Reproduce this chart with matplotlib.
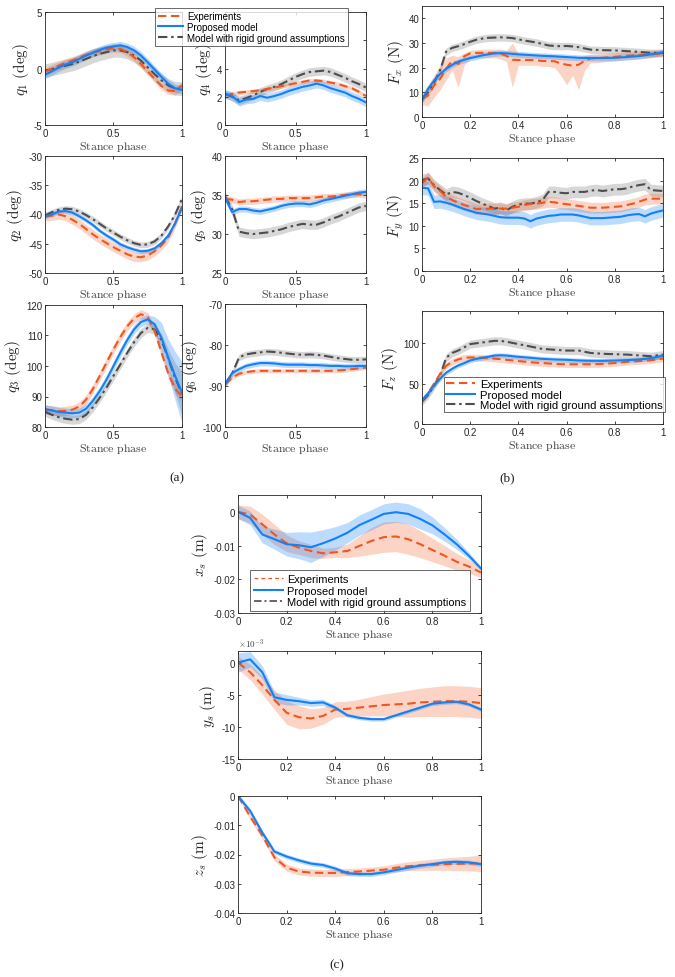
import numpy as np
import matplotlib.pyplot as plt
from matplotlib.ticker import FuncFormatter
from matplotlib.lines import Line2D

plt.rcParams['font.family'] = ['Liberation Sans', 'DejaVu Sans']
plt.rcParams['mathtext.fontset'] = 'cm'
plt.rcParams['axes.unicode_minus'] = False

# stance phase sampling (joint angles / slip use 21 samples, forces 41)
phase21 = np.linspace(0, 1, 21)
phase41 = np.linspace(0, 1, 41)

# ---- (a) joint angles, deg ----
q1_exp = [-0.3, 0.0, 0.25, 0.5, 0.7, 0.95, 1.2, 1.4, 1.55, 1.7, 1.8, 1.75, 1.45, 1.0, 0.4, -0.25, -0.9, -1.55, -1.95, -2.0, -1.5]
q1_pro = [-0.55, -0.25, 0.1, 0.35, 0.55, 0.85, 1.15, 1.4, 1.65, 1.85, 1.95, 2.05, 1.9, 1.6, 1.15, 0.55, -0.1, -0.75, -1.35, -1.75, -1.9]
q1_rig = [-0.2, -0.05, 0.1, 0.25, 0.4, 0.6, 0.85, 1.1, 1.3, 1.45, 1.6, 1.6, 1.45, 1.15, 0.7, 0.1, -0.5, -1.05, -1.5, -1.75, -1.8]

q2_exp = [-40.3, -40.2, -40.0, -40.3, -40.9, -41.6, -42.5, -43.4, -44.2, -44.9, -45.6, -46.2, -46.8, -47.2, -47.3, -47.0, -46.3, -45.3, -43.9, -41.5, -38.6]
q2_pro = [-40.3, -40.0, -39.5, -39.4, -39.7, -40.3, -41.0, -41.8, -42.8, -43.6, -44.3, -45.1, -45.6, -46.0, -46.3, -46.2, -45.8, -44.9, -43.6, -41.5, -38.8]
q2_rig = [-40.2, -39.6, -39.2, -39.0, -39.1, -39.5, -40.1, -40.8, -41.6, -42.4, -43.1, -43.8, -44.4, -44.9, -45.2, -45.1, -44.6, -43.6, -42.0, -40.0, -37.3]

q3_exp = [85.8, 85.4, 85.2, 85.3, 85.7, 86.7, 89.0, 92.5, 96.8, 101.2, 105.5, 109.5, 113.0, 115.6, 117.0, 116.0, 111.5, 104.5, 97.5, 92.5, 90.0]
q3_pro = [85.8, 85.5, 84.9, 84.7, 84.5, 84.7, 86.0, 88.6, 91.8, 95.6, 100.0, 104.4, 108.5, 112.0, 114.4, 115.3, 113.7, 109.3, 102.7, 96.7, 91.3]
q3_rig = [85.0, 84.0, 83.2, 82.7, 82.4, 82.6, 84.0, 86.5, 89.6, 93.0, 96.8, 100.5, 104.3, 107.8, 110.8, 112.5, 112.0, 108.5, 102.5, 96.0, 91.0]
q3_pro_sd = [1.5, 1.5, 1.5, 1.5, 1.5, 1.5, 1.5, 1.5, 1.5, 1.5, 1.5, 1.5, 1.5, 1.5, 1.5, 1.5, 2.5, 5.0, 6.0, 8.0, 10.0]
q3_rig_sd = [1.5, 1.5, 1.5, 1.5, 1.5, 1.5, 1.5, 1.5, 1.5, 1.5, 1.5, 1.5, 1.5, 1.5, 1.5, 1.5, 1.5, 2.0, 3.0, 5.0, 7.0]

q4_exp = [2.1, 2.2, 2.3, 2.35, 2.4, 2.45, 2.55, 2.65, 2.75, 2.85, 2.95, 3.05, 3.15, 3.15, 3.1, 3.0, 2.9, 2.75, 2.6, 2.35, 2.05]
q4_pro = [2.2, 2.05, 1.63, 1.8, 1.85, 2.05, 1.93, 2.05, 2.2, 2.4, 2.55, 2.7, 2.8, 2.93, 2.8, 2.6, 2.45, 2.3, 2.05, 1.85, 1.6]
q4_rig = [2.2, 2.0, 1.75, 1.9, 2.1, 2.35, 2.55, 2.7, 2.9, 3.15, 3.4, 3.6, 3.75, 3.8, 3.85, 3.75, 3.55, 3.35, 3.1, 2.9, 2.65]

q5_exp = [34.5, 34.4, 34.1, 34.2, 34.2, 34.3, 34.4, 34.5, 34.5, 34.6, 34.6, 34.6, 34.6, 34.7, 34.8, 34.8, 34.9, 35.0, 35.1, 35.1, 35.0]
q5_pro = [34.7, 32.8, 33.2, 33.2, 33.0, 32.9, 33.1, 33.3, 33.6, 33.8, 33.9, 33.9, 33.8, 34.0, 34.3, 34.5, 34.7, 34.9, 35.1, 35.3, 35.4]
q5_rig = [34.8, 33.2, 30.3, 30.1, 30.0, 30.1, 30.2, 30.4, 30.6, 30.9, 31.1, 31.3, 31.2, 31.2, 31.5, 31.9, 32.2, 32.6, 33.0, 33.4, 33.6]

q6_exp = [-89.6, -88.0, -87.0, -86.6, -86.4, -86.3, -86.3, -86.3, -86.3, -86.3, -86.3, -86.3, -86.3, -86.3, -86.3, -86.3, -86.2, -86.1, -85.9, -85.7, -85.5]
q6_pro = [-89.6, -86.9, -85.9, -85.1, -84.7, -84.4, -84.4, -84.5, -84.7, -84.8, -84.8, -84.8, -84.9, -84.9, -85.0, -85.1, -85.1, -85.2, -85.2, -85.1, -85.1]
q6_rig = [-89.5, -87.0, -83.0, -82.3, -82.0, -81.8, -81.6, -81.7, -81.9, -82.1, -82.3, -82.4, -82.3, -82.4, -82.6, -82.9, -83.2, -83.4, -83.6, -83.6, -83.5]

# ---- (b) ground reaction forces, N ----
fx_exp = [7.4, 8.7, 12.8, 15.4, 19.5, 22.8, 21.5, 24.6, 25.8, 26.0, 26.0, 26.0, 25.9, 25.8, 24.8, 23.2, 23.1, 23.1, 23.1, 23.0, 22.7,
          22.7, 22.6, 21.7, 21.2, 20.8, 21.2, 22.8, 23.8, 23.9, 24.0, 24.2, 24.4, 24.6, 24.8, 24.95, 25.1, 25.25, 25.4, 25.6, 25.8]
fx_exp_lo = [5, 4.5, 8, 11, 15, 19, 12, 21, 23.5, 24, 24, 24, 24, 23.5, 22.5, 12, 21, 21, 21, 21, 20.5,
             20.5, 20, 17, 13, 17, 11, 19, 22, 22, 22.3, 22.5, 22.7, 23, 23.2, 23.4, 23.6, 23.8, 24, 24.2, 24.4]
fx_exp_hi = [10, 13, 17, 21, 24, 25, 24.5, 26, 27, 27.3, 27.5, 27.5, 27.5, 27.5, 27, 30, 25.5, 25.3, 25.3, 25.2, 25,
             25, 25, 24.5, 24, 23.8, 24, 25, 25.5, 25.6, 25.7, 25.9, 26.1, 26.3, 26.5, 26.6, 26.8, 27, 27.1, 27.2, 27.3]
fx_pro = [6.7, 11.4, 14.8, 17.4, 19.5, 21.1, 22.4, 23.2, 23.9, 24.4, 25.0, 25.4, 25.8, 25.9, 25.8, 25.6, 25.4, 25.25, 25.1, 24.95, 24.8,
          24.7, 24.6, 24.45, 24.3, 24.15, 24.0, 23.95, 23.9, 23.9, 23.9, 23.95, 24.0, 24.15, 24.3, 24.5, 24.7, 25.0, 25.4, 25.8, 26.2]
fx_rig = [7.5, 10.0, 14.0, 19.0, 26.5, 28.0, 28.7, 29.5, 30.5, 31.3, 31.8, 32.1, 32.2, 32.3, 32.2, 32.0, 31.5, 31.0, 30.6, 30.2, 29.6,
          29.0, 28.8, 28.7, 28.8, 28.6, 28.3, 27.8, 27.3, 27.2, 27.1, 27.05, 27.0, 26.85, 26.7, 26.55, 26.4, 26.2, 26.0, 26.0, 26.0]

fy_exp = [19.4, 20.7, 18.7, 17.7, 16.4, 15.7, 15.1, 14.6, 14.2, 13.7, 13.7, 13.8, 13.8, 13.8, 13.8, 14.0, 14.2, 14.6, 14.8, 14.9, 15.1,
          15.3, 15.2, 14.9, 14.8, 14.6, 14.4, 14.2, 14.0, 14.0, 14.0, 14.1, 14.2, 14.3, 14.6, 14.9, 15.3, 15.8, 16.0, 16.0, 16.0]
fy_pro = [18.4, 18.3, 15.3, 15.4, 15.1, 14.7, 14.2, 13.7, 13.3, 12.9, 12.7, 12.5, 12.2, 11.9, 11.8, 11.8, 11.8, 11.6, 11.0, 11.6, 11.9,
          12.2, 12.3, 12.5, 12.5, 12.5, 12.3, 12.0, 11.7, 11.7, 11.7, 11.8, 11.9, 12.0, 12.3, 12.5, 12.6, 12.1, 12.7, 13.1, 13.4]
fy_rig = [20.1, 20.5, 19.0, 17.9, 16.9, 17.5, 17.3, 16.8, 16.2, 15.5, 14.9, 14.4, 13.8, 14.0, 13.4, 14.2, 14.7, 14.9, 14.9, 15.2, 15.7,
          17.5, 17.5, 17.3, 17.2, 17.5, 17.5, 17.5, 17.8, 17.9, 17.7, 17.9, 18.1, 18.1, 18.3, 18.7, 19.0, 19.2, 17.9, 17.8, 17.7]

fz_exp = [29, 38, 50, 62, 72, 77, 80, 82, 82.5, 82.3, 82, 81.5, 81, 80.3, 79.5, 78.8, 78, 77.3, 76.5, 76, 75.5,
          75, 74.5, 74.2, 74, 74, 74, 74, 74, 74.2, 74.5, 75, 75.5, 76.2, 77, 77.5, 78, 78.5, 79, 80, 81]
fz_pro = [29.5, 37.7, 48, 56, 63.5, 68.4, 72.5, 75.4, 78.7, 80.7, 82, 83.2, 84.8, 85.2, 84.8, 84.0, 83.2, 82.6, 82.0, 81.3, 80.7,
          80.3, 79.9, 79.7, 79.5, 79.1, 78.7, 78.5, 78.3, 78.3, 78.3, 78.5, 78.7, 78.9, 79.1, 79.5, 79.9, 80.7, 81.6, 83.0, 84.8]
fz_rig = [28, 36, 47, 60, 82, 88, 91, 95, 99, 100, 101, 102, 103, 103, 102, 100.5, 99, 97.5, 96, 94.5, 93,
          92.5, 92, 91.5, 91, 91, 91, 89.5, 88, 87.5, 87, 86.7, 86.5, 86.2, 86, 85.5, 85, 84.5, 84, 85, 86]

# ---- (c) slip displacement, m ----
xs_exp = [0, -0.0008, -0.0037, -0.0067, -0.0093, -0.0106, -0.0116, -0.0123, -0.0120, -0.0116, -0.0101,
          -0.0086, -0.0075, -0.0073, -0.0081, -0.0096, -0.0113, -0.0130, -0.0148, -0.0162, -0.0180]
xs_pro = [0, -0.0018, -0.0067, -0.0081, -0.0096, -0.0099, -0.0105, -0.0093, -0.0079, -0.0062, -0.0039,
          -0.0023, -0.0006, -0.0001, -0.0006, -0.0021, -0.0040, -0.0067, -0.0096, -0.0130, -0.0168]
xs_exp_sd = [0.002, 0.0025, 0.003, 0.003, 0.0025, 0.002, 0.002, 0.0015, 0.0015, 0.002, 0.003,
             0.004, 0.0045, 0.0045, 0.0045, 0.004, 0.0035, 0.003, 0.0025, 0.002, 0.0015]
xs_pro_sd = [0.002, 0.002, 0.0025, 0.003, 0.0035, 0.004, 0.0045, 0.004, 0.0035, 0.003, 0.003,
             0.003, 0.003, 0.003, 0.003, 0.003, 0.0025, 0.002, 0.0015, 0.001, 0.0005]

ys_exp_e3 = [0, -1.5, -3.5, -5.8, -7.8, -8.5, -8.7, -8.3, -7.3, -7.2, -7.0, -6.8, -6.6, -6.5, -6.4, -6.2, -6.1, -6.0, -6.0, -6.1, -6.3]
ys_pro_e3 = [0, 0.5, -1.5, -5.4, -5.8, -6.0, -6.3, -6.2, -7.0, -8.2, -8.6, -8.8, -8.8, -8.2, -7.6, -7.0, -6.4, -6.2, -6.1, -6.5, -7.3]
ys_exp_sd_e3 = [1.0, 1.2, 1.4, 1.5, 1.8, 1.8, 1.5, 1.3, 1.2, 1.2, 1.3, 1.5, 1.7, 1.9, 2.1, 2.2, 2.3, 2.4, 2.4, 2.4, 2.4]
ys_pro_sd_e3 = [1.5, 1.2, 1.0, 0.8, 0.8, 0.6, 0.5, 0.5, 0.3, 0.3, 0.3, 0.3, 0.3, 0.3, 0.3, 0.3, 0.3, 0.3, 0.3, 0.3, 0.3]

zs_exp = [0, -0.0070, -0.0135, -0.0210, -0.0245, -0.0258, -0.0262, -0.0263, -0.0263, -0.0260, -0.0258,
          -0.0255, -0.0252, -0.0245, -0.0240, -0.0237, -0.0235, -0.0233, -0.0232, -0.0231, -0.0230]
zs_pro = [0, -0.0051, -0.0125, -0.0190, -0.0207, -0.0220, -0.0231, -0.0236, -0.0248, -0.0264, -0.0267,
          -0.0267, -0.0261, -0.0253, -0.0245, -0.0238, -0.0233, -0.0227, -0.0225, -0.0227, -0.0233]
zs_exp_sd = [0.0005, 0.001, 0.0012, 0.0012, 0.0012, 0.0012, 0.0012, 0.0012, 0.0012, 0.0012, 0.0012,
             0.0012, 0.0013, 0.0014, 0.0015, 0.0017, 0.0019, 0.0021, 0.0023, 0.0025, 0.0028]

labels = ['Experiments', 'Proposed model', 'Model with rigid ground assumptions']

EXP_C = '#F0561D'
PRO_C = '#1380F5'
RIG_C = '#4D4D4D'
EXP_LS = (0, (4.0, 2.2))
RIG_LS = (0, (4.5, 1.8, 1.2, 1.8))

W, H = 675, 978
fig = plt.figure(figsize=(W / 100, H / 100), dpi=100)


def add_axes(left, right, top, bottom):
    return fig.add_axes([left / W, 1 - bottom / H, (right - left) / W, (bottom - top) / H])


def series(ax, t, m, sd, color, ls, alpha, lo=None, hi=None):
    m = np.asarray(m, float)
    sd = np.asarray(sd, float)
    lo = m - sd if lo is None else np.asarray(lo, float)
    hi = m + sd if hi is None else np.asarray(hi, float)
    ax.fill_between(t, lo, hi, color=color, alpha=alpha, lw=0)
    ax.plot(t, m, color=color, ls=ls, lw=1.5)


def style(ax, ylab, ylim, yticks, xticks, yfmt=None):
    ax.set_xlim(0, 1)
    ax.set_ylim(ylim)
    ax.set_yticks(yticks)
    ax.set_xticks(xticks)
    ax.xaxis.set_major_formatter(FuncFormatter(lambda v, p: '%g' % round(v, 6)))
    ax.yaxis.set_major_formatter(yfmt or FuncFormatter(lambda v, p: '%g' % round(v, 6)))
    ax.tick_params(direction='in', top=True, right=True, labelsize=7, length=2.5,
                   width=0.6, pad=2, colors='#262626')
    for s in ax.spines.values():
        s.set_linewidth(0.6)
        s.set_color('#262626')
    ax.set_xlabel(r'$\mathrm{Stance\ phase}$', fontsize=8.5, labelpad=1, color='#404040')
    ax.set_ylabel(ylab, fontsize=11, labelpad=2, color='#262626')


def trio(ax, t, exp, pro, rig, sd_e, sd_p, sd_r, exp_lo=None, exp_hi=None):
    series(ax, t, rig, sd_r, RIG_C, RIG_LS, 0.22)
    series(ax, t, exp, sd_e, EXP_C, EXP_LS, 0.25, exp_lo, exp_hi)
    series(ax, t, pro, sd_p, PRO_C, '-', 0.28)


# (a)
ax = add_axes(45, 182, 13, 126)
trio(ax, phase21, q1_exp, q1_pro, q1_rig, 0.35, 0.35, 0.6)
style(ax, r'$q_1\ (\mathrm{deg})$', (-5, 5), [-5, 0, 5], [0, 0.5, 1])

ax = add_axes(225, 366, 13, 126)
trio(ax, phase21, q4_exp, q4_pro, q4_rig, 0.15, 0.3, 0.3)
# labels for 6 and 8 sit under the legend box in the original
style(ax, r'$q_4\ (\mathrm{deg})$', (0, 8), [0, 2, 4, 6, 8], [0, 0.5, 1],
      yfmt=FuncFormatter(lambda v, p: '%g' % v if v < 5 else ''))

ax = add_axes(45, 182, 157, 274)
trio(ax, phase21, q2_exp, q2_pro, q2_rig, 0.8, 0.4, 0.5)
style(ax, r'$q_2\ (\mathrm{deg})$', (-50, -30), [-50, -45, -40, -35, -30], [0, 0.5, 1])

ax = add_axes(225, 366, 157, 274)
trio(ax, phase21, q5_exp, q5_pro, q5_rig, 0.4, 0.4, 0.6)
style(ax, r'$q_5\ (\mathrm{deg})$', (25, 40), [25, 30, 35, 40], [0, 0.5, 1])

ax = add_axes(45, 182, 306, 428)
trio(ax, phase21, q3_exp, q3_pro, q3_rig, 1.5, q3_pro_sd, q3_rig_sd)
style(ax, r'$q_3\ (\mathrm{deg})$', (80, 120), [80, 90, 100, 110, 120], [0, 0.5, 1])

ax = add_axes(225, 366, 305, 428)
trio(ax, phase21, q6_exp, q6_pro, q6_rig, 0.5, 0.7, 0.8)
style(ax, r'$q_6\ (\mathrm{deg})$', (-100, -70), [-100, -90, -80, -70], [0, 0.5, 1])

# (b)
fticks = [0, 0.2, 0.4, 0.6, 0.8, 1]
ax = add_axes(422, 663, 7, 118)
trio(ax, phase41, fx_exp, fx_pro, fx_rig, 0, 1.2, 1.5, fx_exp_lo, fx_exp_hi)
style(ax, r'$F_x\ (\mathrm{N})$', (0, 45), [0, 10, 20, 30, 40], fticks)

ax = add_axes(422, 663, 159, 272)
trio(ax, phase41, fy_exp, fy_pro, fy_rig, 1.2, 1.5, 1.3)
style(ax, r'$F_y\ (\mathrm{N})$', (0, 25), [0, 5, 10, 15, 20, 25], fticks)

ax = add_axes(422, 663, 312, 425)
trio(ax, phase41, fz_exp, fz_pro, fz_rig, 4, 3, 5)
style(ax, r'$F_z\ (\mathrm{N})$', (0, 140), [0, 50, 100], fticks)

handles = [Line2D([], [], color=EXP_C, ls=EXP_LS, lw=1.5),
           Line2D([], [], color=PRO_C, ls='-', lw=1.5),
           Line2D([], [], color=RIG_C, ls=RIG_LS, lw=1.5)]
leg_kw = dict(frameon=True, fancybox=False, edgecolor='#262626', borderaxespad=0,
              handlelength=2.6, handletextpad=0.4)
lg = ax.legend(handles, labels, loc='lower right', bbox_to_anchor=(1.008, 0.105), fontsize=8.1,
               borderpad=0.2, labelspacing=0.02, **leg_kw)
lg.get_frame().set_linewidth(0.6)

lg = fig.legend(handles, labels, loc='upper left', bbox_to_anchor=(155 / W, 1 - 9 / H), fontsize=7.0,
                borderpad=0.3, labelspacing=0.1, **leg_kw)
lg.get_frame().set_linewidth(0.6)

# (c)
ax = add_axes(238, 481, 496, 614)
series(ax, phase21, xs_exp, xs_exp_sd, EXP_C, EXP_LS, 0.25)
series(ax, phase21, xs_pro, xs_pro_sd, PRO_C, '-', 0.28)
style(ax, r'$x_s\ (\mathrm{m})$', (-0.03, 0.005), [-0.03, -0.02, -0.01, 0], fticks)
handles_c = [Line2D([], [], color=EXP_C, ls=(0, (3, 2.5)), lw=0.9),
             Line2D([], [], color=PRO_C, ls='-', lw=1.5),
             Line2D([], [], color=RIG_C, ls=RIG_LS, lw=1.2)]
lg = ax.legend(handles_c, labels, loc='lower left', bbox_to_anchor=(0.05, 0.017), fontsize=7.9,
               borderpad=0.35, labelspacing=0.15, **leg_kw)
lg.get_frame().set_linewidth(0.6)

ax = add_axes(238, 481, 652, 760)
series(ax, phase21, np.array(ys_exp_e3) * 1e-3, np.array(ys_exp_sd_e3) * 1e-3, EXP_C, EXP_LS, 0.25)
series(ax, phase21, np.array(ys_pro_e3) * 1e-3, np.array(ys_pro_sd_e3) * 1e-3, PRO_C, '-', 0.28)
style(ax, r'$y_s\ (\mathrm{m})$', (-0.015, 0.0018), [-0.015, -0.01, -0.005, 0], fticks,
      yfmt=FuncFormatter(lambda v, p: '%g' % round(v * 1e3, 6)))
ax.text(0, 1.01, r'$\times10^{-3}$', transform=ax.transAxes, ha='left', va='bottom',
        fontsize=6.5, color='#404040')

ax = add_axes(238, 481, 797, 914)
series(ax, phase21, zs_exp, zs_exp_sd, EXP_C, EXP_LS, 0.25)
series(ax, phase21, zs_pro, 0.0008, PRO_C, '-', 0.28)
style(ax, r'$z_s\ (\mathrm{m})$', (-0.04, 0), [-0.04, -0.03, -0.02, -0.01, 0], fticks)

for x, y, s in [(177, 478, '(a)'), (507, 478, '(b)'), (337, 965, '(c)')]:
    fig.text(x / W, 1 - y / H, s, ha='center', va='center', fontsize=9.5,
             family='Liberation Serif', color='#202020')

fig.savefig('out.png', dpi=100)
